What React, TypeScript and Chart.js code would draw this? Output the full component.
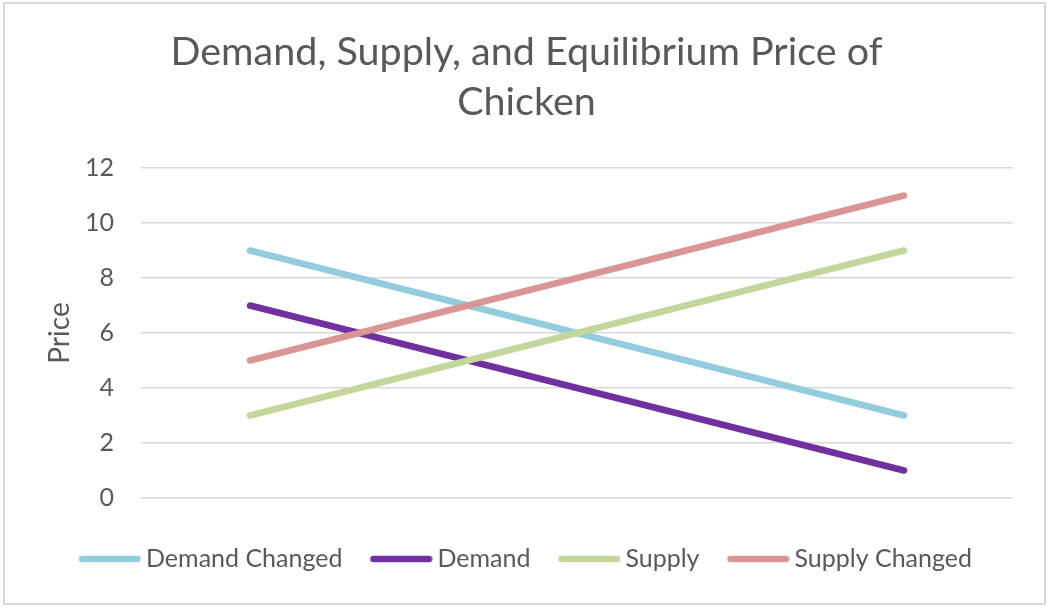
import { useEffect, useRef } from "react";
import Chart, { ChartConfiguration } from "chart.js/auto";

// quantity categories (the axis shows no labels)
const quantities = ["", "", "", ""];

const demandChanged = [9, 7, 5, 3];
const demand = [7, 5, 3, 1];
const supply = [3, 5, 7, 9];
const supplyChanged = [5, 7, 9, 11];

const yTicks = [0, 2, 4, 6, 8, 10, 12];

const TEXT = "#595959";
const FONT = "Lato, 'Open Sans', sans-serif";
const LEGEND_SIZE = 25;
const LINE_W = 6.5;

// legend sample: 62px rounded line, sitting ~5px before the label text
const BOX_W = 72.5;
const SAMPLE_LEN = 62;
const sampleRight = BOX_W + LEGEND_SIZE / 2 - 5;
const SAMPLE_IMG_W = 2 * (sampleRight - BOX_W / 2);

const makeSample = (color: string) => {
  const c = document.createElement("canvas");
  c.width = Math.ceil(SAMPLE_IMG_W);
  c.height = 12;
  const g = c.getContext("2d")!;
  g.strokeStyle = color;
  g.lineWidth = LINE_W;
  g.lineCap = "round";
  g.beginPath();
  g.moveTo(SAMPLE_IMG_W - SAMPLE_LEN + LINE_W / 2, 6);
  g.lineTo(SAMPLE_IMG_W - LINE_W / 2, 6);
  g.stroke();
  return c;
};

// white page + thin grey frame, like the Excel chart area
const framePlugin = {
  id: "frame",
  beforeDraw(chart: Chart) {
    const { ctx, width, height } = chart;
    ctx.save();
    ctx.fillStyle = "#ffffff";
    ctx.fillRect(0, 0, width, height);
    ctx.strokeStyle = "#d9d9d9";
    ctx.lineWidth = 2;
    ctx.strokeRect(4, 3, width - 12, height - 9);
    ctx.restore();
  },
};

// the sample lines hang left of each item box, so nudge the legend back to centre
const legendShift = {
  id: "legendShift",
  afterLayout(chart: Chart) {
    const lg: any = chart.legend;
    if (!lg) return;
    lg.left -= 10;
    lg.right -= 10;
  },
};

const App = () => {
  const chartRef = useRef<HTMLCanvasElement | null>(null);
  const chartInstanceRef = useRef<Chart | null>(null);

  useEffect(() => {
    if (chartInstanceRef.current) {
      chartInstanceRef.current.destroy();
    }
    const ctx = chartRef.current?.getContext("2d");
    if (!ctx) return;

    const colors = ["#93CDDD", "#7030A0", "#C3D69B", "#D99694"];
    const samples = colors.map(makeSample);

    const line = (label: string, data: number[], color: string, order: number) => ({
      label,
      data,
      borderColor: color,
      backgroundColor: color,
      borderWidth: LINE_W,
      borderCapStyle: "round",
      borderJoinStyle: "round",
      pointRadius: 0,
      pointHoverRadius: 0,
      fill: false,
      tension: 0,
      order, // later Excel series sit on top
    });

    chartInstanceRef.current = new Chart(ctx, {
      type: "line",
      data: {
        labels: quantities,
        datasets: [
          line("Demand Changed", demandChanged, colors[0], 4),
          line("Demand", demand, colors[1], 3),
          line("Supply", supply, colors[2], 2),
          line("Supply Changed", supplyChanged, colors[3], 1),
        ],
      },
      options: {
        responsive: false,
        animation: false,
        layout: { padding: { top: 0, left: 0, right: 0, bottom: 28.5 } },
        plugins: {
          title: {
            display: true,
            text: ["Demand, Supply, and Equilibrium Price of", "Chicken"],
            color: TEXT,
            font: { family: FONT, size: 39.5, weight: "normal", lineHeight: 1.266 },
            padding: { top: 27, bottom: 41 },
          },
          legend: {
            position: "bottom",
            labels: {
              usePointStyle: true,
              pointStyleWidth: BOX_W,
              color: TEXT,
              font: { family: FONT, size: LEGEND_SIZE },
              padding: 10,
              sort: (a, b) => (a.datasetIndex ?? 0) - (b.datasetIndex ?? 0),
              generateLabels: (chart: Chart) =>
                Chart.defaults.plugins.legend.labels
                  .generateLabels(chart)
                  .map((item) => ({
                    ...item,
                    pointStyle: samples[item.datasetIndex ?? 0],
                  })),
            },
          },
          tooltip: { enabled: false },
        },
        scales: {
          x: {
            offset: true,
            grid: { display: false },
            border: { display: false },
            ticks: { display: false },
            afterFit: (s: any) => {
              s.height = 38.5;
            },
          },
          y: {
            min: 0,
            max: 12,
            afterBuildTicks: (s: any) => {
              s.ticks = yTicks.map((v) => ({ value: v }));
            },
            grid: { color: "#d9d9d9", lineWidth: 1.5, drawTicks: false },
            border: { display: false },
            ticks: {
              color: TEXT,
              padding: 27,
              font: { family: FONT, size: 25 },
            },
            title: {
              display: true,
              text: "Price",
              color: TEXT,
              font: { family: FONT, size: 28 },
              padding: { top: 43.5, bottom: 0 },
            },
            afterFit: (s: any) => {
              s.width = 141;
            },
          },
          // empty right-hand spacer so the plot stops short of the frame
          yRight: {
            position: "right",
            display: true,
            grid: { display: false },
            border: { display: false },
            ticks: { display: false },
            afterFit: (s: any) => {
              s.width = 40;
            },
          },
        },
      },
      plugins: [framePlugin, legendShift],
    } as ChartConfiguration);

    return () => {
      if (chartInstanceRef.current) {
        chartInstanceRef.current.destroy();
        chartInstanceRef.current = null;
      }
    };
  }, []);

  return (
    <div style={{ position: "absolute", left: 0, top: 0, width: 1053, height: 610 }}>
      <canvas ref={chartRef} width={1053} height={610} style={{ display: "block" }} />
    </div>
  );
};

export default App;
